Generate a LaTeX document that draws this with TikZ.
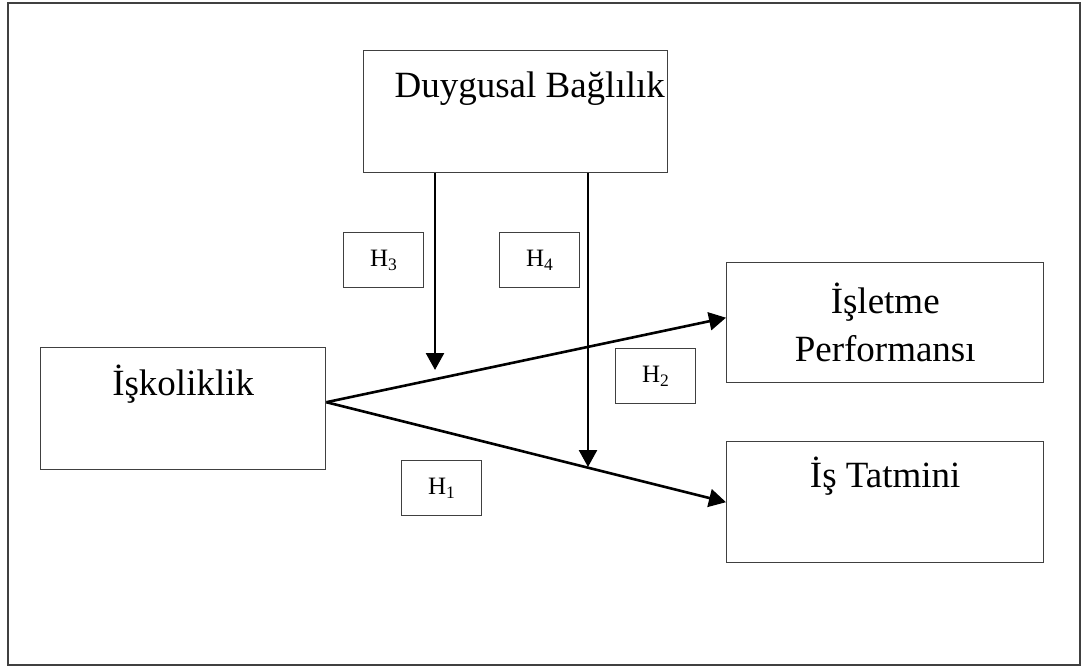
\documentclass[tikz,border=0pt]{standalone}
\usepackage{fontspec}
\setmainfont{Liberation Serif}
\usetikzlibrary{arrows.meta,calc}

\begin{document}
\begin{tikzpicture}[x=1pt,y=1pt,yscale=-1,xscale=1,
    varbox/.style={draw=black!75, line width=1.4, inner sep=0pt, anchor=north west, font=\fontsize{37}{48}\selectfont, align=center},
    hbox/.style={draw=black!75, line width=1.4, inner sep=0pt, anchor=north west, minimum width=80, minimum height=55, font=\fontsize{25}{28}\selectfont},
    link/.style={line width=2.6, -{Triangle[length=17pt,width=18pt]}}]
    \path (0,0) rectangle (1087,669);

    \draw [black!75, line width=1.4] (8,3) rectangle (1080,665);

    \node [varbox, minimum width=304, text height=47, text depth=75] (duygu) at (363,50) {\hspace*{28pt}Duygusal Bağlılık};
    \node [varbox, minimum width=285, text height=48, text depth=74] (isko) at (40,347) {İşkoliklik};
    \node [varbox, minimum width=317, minimum height=120] (perf) at (726,262) {İşletme\\Performansı};
    \node [varbox, minimum width=317, text height=46, text depth=75] (tatmin) at (726,441) {İş Tatmini};

    \node [hbox] (h3) at (343,232) {H\textsubscript{3}};
    \node [hbox] (h4) at (499,232) {H\textsubscript{4}};
    \node [hbox] (h2) at (615,348) {H\textsubscript{2}};
    \node [hbox] (h1) at (401,460) {H\textsubscript{1}};

    \coordinate (apex) at ($(isko.east)+(0,-6.5)$);
    \coordinate (t3) at (435,370);
    \coordinate (t4) at (588,467);

    \draw [link] (apex) -- ($(perf.west)+(0,-5)$);
    \draw [link] (apex) -- (tatmin.west);
    \draw [link] (duygu.south -| t3) -- (t3);
    \draw [link] (duygu.south -| t4) -- (t4);
\end{tikzpicture}
\end{document}
